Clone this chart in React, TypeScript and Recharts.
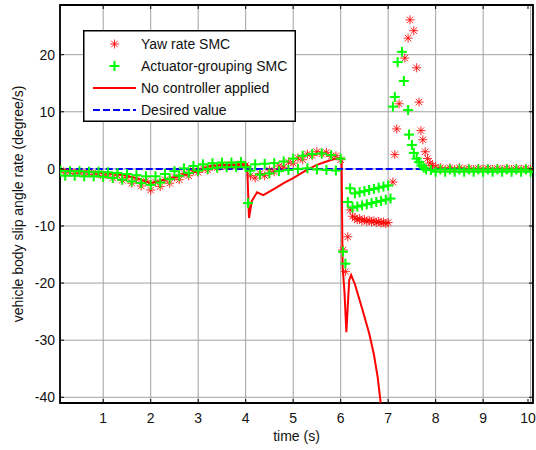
import React from 'react'
import {
  CartesianGrid,
  ComposedChart,
  Legend,
  Line,
  ReferenceArea,
  Scatter,
  XAxis,
  YAxis,
} from 'recharts'

const xTicks = [1, 2, 3, 4, 5, 6, 7, 8, 9, 10]
const yTicks = [-40, -30, -20, -10, 0, 10, 20]

const desiredT = [0, 10]
const desiredV = [0, 0]

// no controller: red solid line
const noCtrlT = [
  0, 0.5, 1.0, 1.3, 1.6, 1.8, 2.0, 2.2, 2.5, 2.8, 3.0, 3.25, 3.5, 3.8, 4.03, 4.07, 4.13, 4.24, 4.37,
  4.6, 4.8, 5.0, 5.2, 5.35, 5.5, 5.7, 5.9, 5.98, 6.02, 6.04, 6.08, 6.12, 6.15, 6.18, 6.22, 6.3, 6.45,
  6.6, 6.7, 6.78, 6.85,
]
const noCtrlV = [
  -0.1, -0.4, -0.6, -0.9, -1.4, -1.9, -2.5, -2.1, -1.5, -0.8, -0.3, 0.5, 0.7, 0.7, 0.8, -8.6, -5.6,
  -4.1, -4.6, -3.5, -2.5, -1.6, -0.6, 0.1, 0.7, 1.3, 1.8, 1.9, 1.5, -17.0, -21.5, -28.6, -24.0, -19.5,
  -18.6, -20.2, -24.4, -28.8, -32.5, -36.5, -41.5,
]

// yaw rate SMC: red asterisks
const yawT = [
  0.1, 0.2, 0.3, 0.4, 0.5, 0.6, 0.7, 0.8, 0.9, 1.0, 1.1, 1.2, 1.3, 1.4, 1.5, 1.6, 1.7, 1.8, 1.9, 2.0,
  2.1, 2.2, 2.3, 2.4, 2.5, 2.6, 2.7, 2.8, 2.9, 3.0, 3.1, 3.2, 3.3, 3.4, 3.5, 3.6, 3.7, 3.8, 3.9, 4.0,
  4.1, 4.2, 4.3, 4.4, 4.5, 4.6, 4.7, 4.8, 4.9, 5.0, 5.1, 5.2, 5.3, 5.4, 5.5, 5.6, 5.7, 5.8, 5.9, 6.0,
  6.05, 6.1, 6.15, 6.2, 6.25, 6.3, 6.35, 6.4, 6.45, 6.5, 6.55, 6.6, 6.65, 6.7, 6.75, 6.8, 6.85, 6.9,
  6.95, 7.0, 7.1, 7.14, 7.18, 7.23, 7.35, 7.42, 7.46, 7.54, 7.6, 7.65, 7.69, 7.73, 7.78, 7.83, 7.88,
  7.93, 8.0, 8.1, 8.2, 8.3, 8.4, 8.5, 8.6, 8.7, 8.8, 8.9, 9.0, 9.1, 9.2, 9.3, 9.4, 9.5, 9.6, 9.7, 9.8,
  9.9, 10.0,
]
const yawV = [
  -0.3, -0.6, -0.5, -0.8, -0.6, -0.9, -0.7, -1.0, -0.8, -1.2, -1.0, -1.6, -1.2, -2.0, -1.5, -2.5, -1.8,
  -3.0, -2.1, -3.7, -2.3, -3.1, -1.9, -2.5, -1.4, -1.9, -0.8, -1.2, -0.3, -0.6, 0.1, -0.2, 0.5, 0.2,
  0.7, 0.4, 0.8, 0.5, 0.9, 0.6, -1.2, -1.6, -0.8, -1.2, -0.2, -0.5, 0.5, 0.3, 1.2, 1.0, 1.9, 1.6, 2.6,
  2.3, 3.0, 2.6, 2.9, 2.2, 2.3, 1.6, -14.2, -18.0, -11.9, -7.2, -8.3, -8.6, -8.9, -8.7, -9.1, -8.9,
  -9.2, -9.0, -9.3, -9.1, -9.4, -9.2, -9.5, -9.3, -9.6, -9.4, -2.3, 2.5, 7.0, 11.4, 19.4, 22.9, 26.1,
  24.2, 17.7, 11.7, 6.7, 5.1, 3.0, 1.8, 1.0, 0.6, 0.3, 0.2, -0.1, 0.2, -0.1, 0.2, -0.1, 0.1, -0.1, 0.1,
  -0.1, 0.1, -0.1, 0.1, -0.1, 0.1, -0.1, 0.1, -0.1, 0.1, -0.1,
]

// actuator-grouping SMC: green crosses
const actT = [
  0.1, 0.2, 0.3, 0.4, 0.5, 0.6, 0.7, 0.8, 0.9, 1.0, 1.1, 1.2, 1.3, 1.4, 1.5, 1.6, 1.7, 1.8, 1.9, 2.0,
  2.1, 2.2, 2.3, 2.4, 2.5, 2.6, 2.7, 2.8, 2.9, 3.0, 3.1, 3.2, 3.3, 3.4, 3.5, 3.6, 3.7, 3.8, 3.9, 4.0,
  4.05, 4.1, 4.2, 4.3, 4.4, 4.5, 4.6, 4.7, 4.8, 4.9, 5.0, 5.1, 5.2, 5.3, 5.4, 5.5, 5.6, 5.7, 5.8, 5.9,
  6.0, 6.05, 6.1, 6.15, 6.2, 6.25, 6.3, 6.35, 6.4, 6.45, 6.5, 6.55, 6.6, 6.65, 6.7, 6.75, 6.8, 6.85,
  6.9, 6.95, 7.0, 7.05, 7.1, 7.14, 7.2, 7.29, 7.33, 7.42, 7.44, 7.5, 7.54, 7.6, 7.65, 7.7, 7.75, 7.8,
  7.9, 8.0, 8.1, 8.2, 8.3, 8.4, 8.5, 8.6, 8.7, 8.8, 8.9, 9.0, 9.1, 9.2, 9.3, 9.4, 9.5, 9.6, 9.7, 9.8,
  9.9, 10.0,
]
const actV = [
  -0.3, -1.2, -0.4, -1.2, -0.4, -1.3, -0.5, -1.3, -0.5, -1.4, -0.6, -1.6, -0.7, -1.9, -0.9, -2.2, -1.1,
  -2.5, -1.3, -2.8, -1.3, -2.4, -0.9, -1.8, -0.4, -1.2, 0.1, -0.7, 0.5, -0.3, 0.8, 0.0, 1.0, 0.2, 1.1,
  0.3, 1.1, 0.3, 1.2, 0.3, -6.0, -0.3, 0.8, -1.0, 0.9, -0.8, 1.0, -0.4, 1.3, -0.2, 1.8, 0.0, 2.3, 0.1,
  2.6, -0.1, 2.7, -0.2, 2.4, -0.3, 1.8, -14.5, -16.6, -5.8, -3.4, -6.8, -4.3, -6.6, -4.1, -6.4, -3.9,
  -6.2, -3.7, -6.0, -3.5, -5.8, -3.3, -5.6, -3.1, -5.4, -2.9, -5.2, 10.9, 12.6, 18.7, 20.5, 15.4, 10.3,
  6.0, 4.2, 2.8, 1.8, 1.2, 0.6, 0.2, -0.1, -0.2, -0.5, -0.1, -0.5, -0.1, -0.5, -0.1, -0.5, -0.1, -0.5,
  -0.1, -0.5, -0.1, -0.5, -0.1, -0.5, -0.1, -0.5, -0.1, -0.5, -0.1, -0.5,
]

const zip = (t: number[], v: number[]) => t.map((x, i) => ({ t: x, v: v[i] }))

const desiredData = zip(desiredT, desiredV)
const noCtrlData = zip(noCtrlT, noCtrlV)
const yawData = zip(yawT, yawV)
const actData = zip(actT, actV)

const FONT = "'Liberation Sans', Arial, Helvetica, sans-serif"
const PLOT_TOP = 5
const PLOT_BOTTOM = 403
const PLOT_LEFT = 60
const PLOT_RIGHT = 533
const X_DOMAIN: [number, number] = [0.09, 10.05]
const Y_DOMAIN: [number, number] = [-41, 28.7]

function Asterisk({ cx, cy }: { cx: number; cy: number }) {
  const r = 4.5
  const d = r * 0.72
  return (
    <g stroke="#ff0000" strokeWidth={1} strokeOpacity={0.85}>
      <line x1={cx - r} y1={cy} x2={cx + r} y2={cy} />
      <line x1={cx} y1={cy - r} x2={cx} y2={cy + r} />
      <line x1={cx - d} y1={cy - d} x2={cx + d} y2={cy + d} />
      <line x1={cx - d} y1={cy + d} x2={cx + d} y2={cy - d} />
    </g>
  )
}

function Plus({ cx, cy }: { cx: number; cy: number }) {
  const r = 5
  return (
    <g stroke="#00ff00" strokeWidth={2}>
      <line x1={cx - r} y1={cy} x2={cx + r} y2={cy} />
      <line x1={cx} y1={cy - r} x2={cx} y2={cy + r} />
    </g>
  )
}

function XTick(props: any) {
  const { x, payload } = props
  return (
    <g>
      <line x1={x} x2={x} y1={PLOT_BOTTOM} y2={PLOT_BOTTOM - 4} stroke="#000" />
      <line x1={x} x2={x} y1={PLOT_TOP} y2={PLOT_TOP + 4} stroke="#000" />
      <text x={x} y={418} textAnchor="middle" dominantBaseline="central" fontSize={14} fontFamily={FONT} fill="#111">
        {payload.value}
      </text>
    </g>
  )
}

function YTick(props: any) {
  const { y, payload } = props
  return (
    <g>
      <line x1={PLOT_LEFT} x2={PLOT_LEFT + 4} y1={y} y2={y} stroke="#000" />
      <line x1={PLOT_RIGHT} x2={PLOT_RIGHT - 4} y1={y} y2={y} stroke="#000" />
      <text x={55} y={y} textAnchor="end" dominantBaseline="central" fontSize={14} fontFamily={FONT} fill="#111">
        {payload.value}
      </text>
    </g>
  )
}

const legendRows = [
  { name: 'Yaw rate SMC', kind: 'star' },
  { name: 'Actuator-grouping SMC', kind: 'plus' },
  { name: 'No controller applied', kind: 'line' },
  { name: 'Desired value', kind: 'dash' },
]

function LegendBox() {
  return (
    <svg width={213} height={92} style={{ display: 'block' }}>
      <rect x={0.75} y={0.75} width={211.5} height={90.5} fill="#fff" stroke="#000" strokeWidth={1.5} />
      {legendRows.map((row, i) => {
        const cy = 14 + i * 22
        return (
          <g key={row.name}>
            {row.kind === 'star' && <Asterisk cx={31.5} cy={cy} />}
            {row.kind === 'plus' && <Plus cx={31.5} cy={cy} />}
            {row.kind === 'line' && <line x1={10} x2={53} y1={cy} y2={cy} stroke="#ff0000" strokeWidth={2} />}
            {row.kind === 'dash' && (
              <line x1={10} x2={53} y1={cy} y2={cy} stroke="#0000ff" strokeWidth={2} strokeDasharray="7 3" />
            )}
            <text x={58} y={cy} dominantBaseline="central" fontSize={14} fontFamily={FONT} fill="#111">
              {row.name}
            </text>
          </g>
        )
      })}
    </svg>
  )
}

export default function App() {
  return (
    <div style={{ position: 'absolute', left: 0, top: 0, background: '#fff' }}>
      <ComposedChart
        width={536}
        height={450}
        margin={{ top: PLOT_TOP, right: 536 - PLOT_RIGHT, bottom: 17, left: 0 }}
        style={{ fontFamily: FONT }}
      >
        <CartesianGrid stroke="#a0a0a0" strokeWidth={1} />
        <XAxis
          type="number"
          dataKey="t"
          domain={X_DOMAIN}
          ticks={xTicks}
          allowDataOverflow
          height={30}
          tickSize={0}
          axisLine={false}
          tick={<XTick />}
          label={{ value: 'time (s)', position: 'bottom', offset: -2, fontSize: 14, fill: '#111', fontFamily: FONT }}
        />
        <YAxis
          type="number"
          dataKey="v"
          domain={Y_DOMAIN}
          ticks={yTicks}
          allowDataOverflow
          width={60}
          tickSize={0}
          axisLine={false}
          tick={<YTick />}
          label={{
            value: 'vehicle body slip angle rate (degree/s)',
            angle: -90,
            position: 'insideLeft',
            offset: 18,
            fontSize: 14,
            fill: '#111',
            fontFamily: FONT,
            style: { textAnchor: 'middle' },
          }}
        />
        <Scatter
          name="Yaw rate SMC"
          data={yawData}
          isAnimationActive={false}
          shape={(p: any) => <Asterisk cx={p.cx} cy={p.cy} />}
        />
        <Scatter
          name="Actuator-grouping SMC"
          data={actData}
          isAnimationActive={false}
          shape={(p: any) => <Plus cx={p.cx} cy={p.cy} />}
        />
        <Line
          name="No controller applied"
          data={noCtrlData}
          dataKey="v"
          type="linear"
          stroke="#ff0000"
          strokeWidth={2}
          dot={false}
          isAnimationActive={false}
        />
        <Line
          name="Desired value"
          data={desiredData}
          dataKey="v"
          type="linear"
          stroke="#0000ff"
          strokeWidth={2}
          strokeDasharray="7 3"
          dot={false}
          isAnimationActive={false}
        />
        <ReferenceArea
          x1={X_DOMAIN[0]}
          x2={X_DOMAIN[1]}
          y1={Y_DOMAIN[0]}
          y2={Y_DOMAIN[1]}
          fill="none"
          stroke="#000"
          strokeWidth={1.8}
          ifOverflow="visible"
        />
        <Legend
          layout="vertical"
          align="center"
          verticalAlign="middle"
          width={213}
          height={92}
          wrapperStyle={{ left: 83, top: 30, width: 213, height: 92 }}
          content={() => <LegendBox />}
        />
      </ComposedChart>
    </div>
  )
}
